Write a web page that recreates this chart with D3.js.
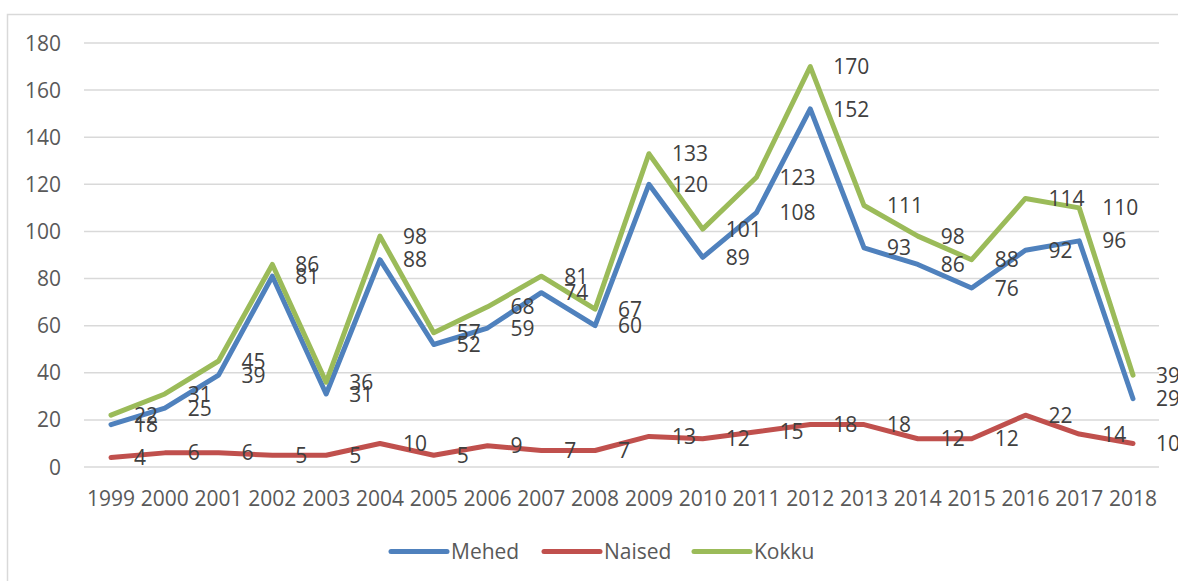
<!DOCTYPE html>
<html>
<head>
<meta charset="utf-8">
<script src="https://cdn.jsdelivr.net/npm/d3@7"></script>
<style>
  body { margin: 0; background: #fff; }
  text { font-family: "Open Sans", "Noto Sans", sans-serif; }
</style>
</head>
<body>
<svg width="1178" height="581"></svg>
<script>
const years = ["1999","2000","2001","2002","2003","2004","2005","2006","2007","2008",
               "2009","2010","2011","2012","2013","2014","2015","2016","2017","2018"];
const mehed  = [18,25,39,81,31,88,52,59,74,60,120,89,108,152,93,86,76,92,96,29];
const naised = [4,6,6,5,5,10,5,9,7,7,13,12,15,18,18,12,12,22,14,10];
const kokku  = [22,31,45,86,36,98,57,68,81,67,133,101,123,170,111,98,88,114,110,39];
const seriesNames = ["Mehed","Naised","Kokku"];
const yTicks = [0,20,40,60,80,100,120,140,160,180];

var svg = d3.select("svg"),
    wth = +svg.attr("width"),
    hgt = +svg.attr("height");
var color = d3.scaleOrdinal(seriesNames, ["#4f81bd","#c0504d","#9bbb59"]);
var fs = 21;

// chart frame
svg.append("rect")
   .attr("x",7.5).attr("y",14.5)
   .attr("width",wth+10).attr("height",hgt+10)
   .attr("fill","none").attr("stroke","#d9d9d9").attr("stroke-width",1.5);

var x = d3.scalePoint().domain(years).range([111,1133]);
var y = d3.scaleLinear().domain([0,180]).range([467,43]);

// gridlines
svg.append("g").selectAll("line")
   .data(yTicks).enter().append("line")
   .attr("x1",84).attr("x2",1159)
   .attr("y1",d=>y(d)).attr("y2",d=>y(d))
   .attr("stroke","#d9d9d9").attr("stroke-width",1.5);

// y labels
svg.append("g").selectAll("text")
   .data(yTicks).enter().append("text")
   .attr("x",61).attr("y",d=>y(d)).attr("dy","0.36em")
   .attr("text-anchor","end")
   .attr("font-size",fs).attr("fill","#595959")
   .text(d=>d);

// x labels
svg.append("g").selectAll("text")
   .data(years).enter().append("text")
   .attr("x",d=>x(d)).attr("y",506)
   .attr("text-anchor","middle")
   .attr("font-size",fs).attr("fill","#595959")
   .text(d=>d);

var data = [mehed, naised, kokku];
var line = d3.line().x((d,i)=>x(years[i])).y(d=>y(d));

svg.append("g").selectAll("path")
   .data(data).enter().append("path")
   .attr("d",line)
   .attr("fill","none")
   .attr("stroke",(d,i)=>color(seriesNames[i]))
   .attr("stroke-width",5)
   .attr("stroke-linejoin","round")
   .attr("stroke-linecap","round");

// data labels, right of each point
data.forEach(function(vals){
  svg.append("g").selectAll("text")
     .data(vals).enter().append("text")
     .attr("x",(d,i)=>x(years[i])+23)
     .attr("y",d=>y(d)).attr("dy","0.36em")
     .attr("font-size",fs).attr("fill","#404040")
     .text(d=>d);
});

// legend
var legX = [391,544,694];
var leg = svg.append("g").selectAll("g")
   .data(seriesNames).enter().append("g");
leg.append("line")
   .attr("x1",(d,i)=>legX[i]).attr("x2",(d,i)=>legX[i]+56)
   .attr("y1",551.5).attr("y2",551.5)
   .attr("stroke",d=>color(d)).attr("stroke-width",5)
   .attr("stroke-linecap","round");
leg.append("text")
   .attr("x",(d,i)=>legX[i]+60).attr("y",551.5).attr("dy","0.36em")
   .attr("font-size",fs).attr("fill","#595959")
   .text(d=>d);
</script>
</body>
</html>
